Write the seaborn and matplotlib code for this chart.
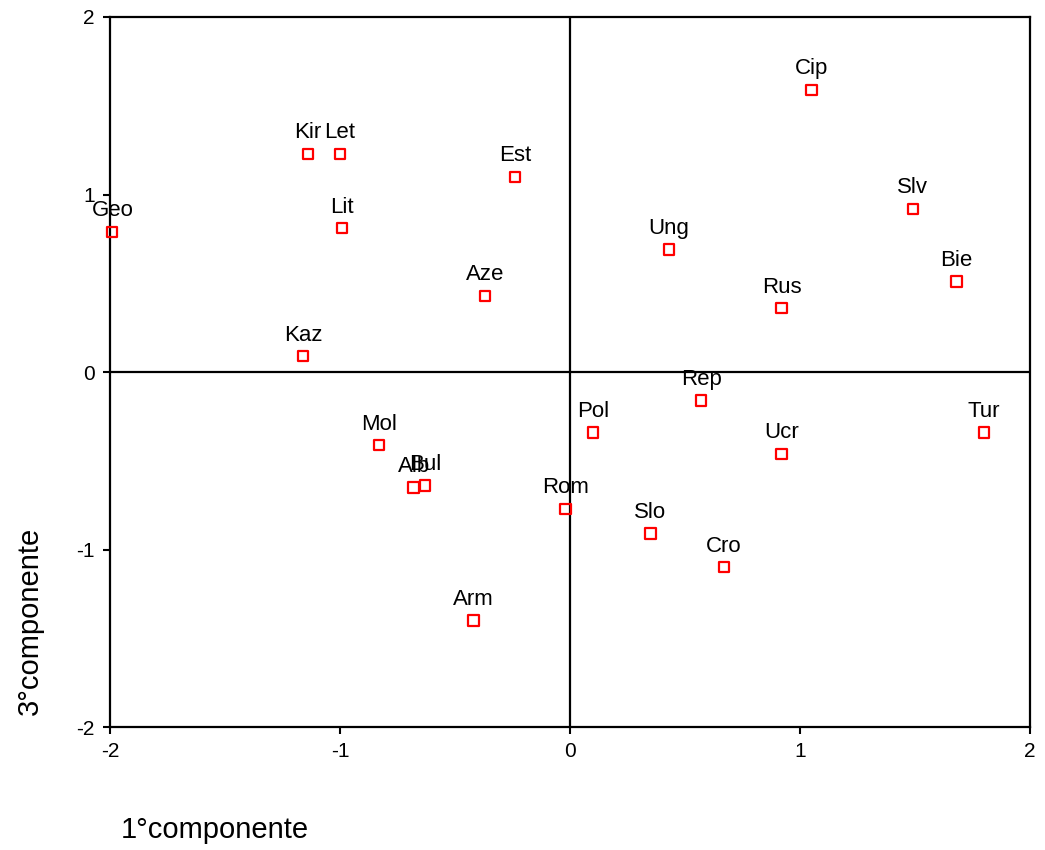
import numpy as np
import pandas as pd
import matplotlib
matplotlib.use("Agg")
import matplotlib.pyplot as plt
import seaborn as sns

# ── dati (coordinate sul 1° e 3° componente) ──
paesi = ["Geo", "Kir", "Let", "Lit", "Est", "Aze", "Kaz", "Mol", "Alb", "Bul",
         "Arm", "Rom", "Pol", "Slo", "Cro", "Rep", "Ucr", "Tur", "Ung", "Rus",
         "Cip", "Slv", "Bie"]
comp1 = [-1.99, -1.14, -1.00, -0.99, -0.24, -0.37, -1.16, -0.83, -0.68, -0.63,
         -0.42, -0.02, 0.10, 0.35, 0.67, 0.57, 0.92, 1.80, 0.43, 0.92,
         1.05, 1.49, 1.68]
comp3 = [0.79, 1.23, 1.23, 0.81, 1.10, 0.43, 0.09, -0.41, -0.65, -0.64,
         -1.40, -0.77, -0.34, -0.91, -1.10, -0.16, -0.46, -0.34, 0.69, 0.36,
         1.59, 0.92, 0.51]
ticks = [-2, -1, 0, 1, 2]

df = pd.DataFrame({"paese": paesi, "c1": comp1, "c3": comp3})

sns.set_style("white", {"text.color": "black", "xtick.color": "black",
                        "ytick.color": "black", "axes.labelcolor": "black"})
plt.rcParams["font.family"] = ["Liberation Sans", "DejaVu Sans"]

fig = plt.figure(figsize=(10.45, 8.5), dpi=100)
ax = fig.add_axes([0.1053, 0.1447, 0.8803, 0.8353])

# assi dello zero
ax.axhline(0, color="black", lw=1.6, zorder=1)
ax.axvline(0, color="black", lw=1.6, zorder=1)

sns.scatterplot(data=df, x="c1", y="c3", ax=ax, marker="s", s=55,
                facecolor="none", edgecolor="red", linewidth=1.6, zorder=3,
                clip_on=False)

for _, r in df.iterrows():
    ax.annotate(r["paese"], (r["c1"], r["c3"]), xytext=(0, 11),
                textcoords="offset points", ha="center", va="baseline",
                fontsize=16, color="black", zorder=4)

ax.set_xlim(-2, 2)
ax.set_ylim(-2, 2)
ax.set_xticks(ticks)
ax.set_yticks(ticks)
ax.set_xticklabels([str(t) for t in ticks], fontsize=15)
ax.set_yticklabels([str(t) for t in ticks], fontsize=15)
ax.tick_params(bottom=True, left=True, direction="out", length=5, width=1.5,
               color="black", labelcolor="black", pad=6)
ax.set_xlabel("")
ax.set_ylabel("")
for s in ax.spines.values():
    s.set_color("black")
    s.set_linewidth(1.6)

fig.text(0.029, 0.27, "3°componente", rotation=90, ha="center", va="center",
         fontsize=21, color="black")
fig.text(0.206, 0.023, "1°componente", ha="center", va="center", fontsize=21,
         color="black")

fig.savefig("out.png", dpi=100)
